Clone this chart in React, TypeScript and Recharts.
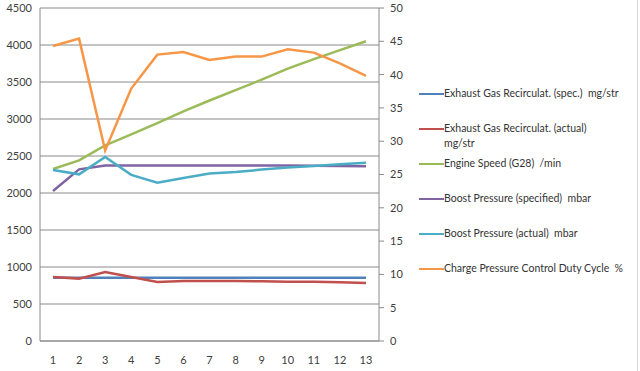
import React from 'react';
import { LineChart, Line, XAxis, YAxis, CartesianGrid, Legend } from 'recharts';

const categories = ['1', '2', '3', '4', '5', '6', '7', '8', '9', '10', '11', '12', '13'];
const egrSpec = [855, 855, 855, 855, 855, 855, 855, 855, 855, 855, 855, 855, 855];
const egrActual = [865, 843, 932, 865, 798, 811, 811, 810, 808, 800, 800, 795, 784];
const engineSpeed = [2324, 2440, 2644, 2792, 2944, 3103, 3250, 3390, 3531, 3680, 3810, 3930, 4050];
const boostSpec = [2027, 2320, 2370, 2372, 2372, 2372, 2372, 2372, 2372, 2370, 2368, 2364, 2360];
const boostActual = [2310, 2252, 2486, 2245, 2140, 2203, 2262, 2284, 2316, 2343, 2365, 2387, 2410];
const dutyCycle = [44.3, 45.4, 28.6, 37.9, 43.0, 43.4, 42.2, 42.7, 42.7, 43.8, 43.3, 41.7, 39.8];

const leftTicks = [0, 500, 1000, 1500, 2000, 2500, 3000, 3500, 4000, 4500];
const rightTicks = [0, 5, 10, 15, 20, 25, 30, 35, 40, 45, 50];
const boundaryTicks = [0, 1, 2, 3, 4, 5, 6, 7, 8, 9, 10, 11, 12, 13];

const series = [
  { key: 'egrSpec', name: ['Exhaust Gas Recirculat. (spec.)  mg/str'], color: '#4F81BD', axis: 'left' },
  { key: 'egrActual', name: ['Exhaust Gas Recirculat. (actual)', 'mg/str'], color: '#C0504D', axis: 'left' },
  { key: 'engineSpeed', name: ['Engine Speed (G28)  /min'], color: '#9BBB59', axis: 'left' },
  { key: 'boostSpec', name: ['Boost Pressure (specified)  mbar'], color: '#8064A2', axis: 'left' },
  { key: 'boostActual', name: ['Boost Pressure (actual)  mbar'], color: '#4BACC6', axis: 'left' },
  { key: 'dutyCycle', name: ['Charge Pressure Control Duty Cycle  %'], color: '#F79646', axis: 'right' },
];

const data = categories.map((c, i) => ({
  cat: c,
  egrSpec: egrSpec[i],
  egrActual: egrActual[i],
  engineSpeed: engineSpeed[i],
  boostSpec: boostSpec[i],
  boostActual: boostActual[i],
  dutyCycle: dutyCycle[i],
}));

const FONT = 'Lato, "Open Sans", sans-serif';

const LegendContent = () => (
  <div style={{ position: 'relative', width: 0, height: 0, overflow: 'visible', fontFamily: FONT, fontSize: 10.5, color: '#333' }}>
    {series.map((s, i) => (
      <div key={s.key} style={{ position: 'absolute', left: 0, top: i * 35, width: 215, display: 'flex', alignItems: 'flex-start' }}>
        <div style={{ width: 25, height: 2, background: s.color, marginTop: 7, flexShrink: 0 }} />
        <div style={{ lineHeight: '15px', whiteSpace: 'pre' }}>
          {s.name.map((n, j) => (
            <div key={j}>{n}</div>
          ))}
        </div>
      </div>
    ))}
  </div>
);

export default function App() {
  const tickStyle = { fontFamily: FONT, fontSize: 11, fill: '#404040' };
  return (
    <div style={{ position: 'absolute', left: 0, top: 0, width: 640, height: 371, background: '#fff' }}>
      <div style={{ position: 'absolute', left: 637, top: 0, width: 1, height: 371, background: '#d6d6d6' }} />
      <LineChart width={640} height={371} data={data} margin={{ top: 8, right: 221, bottom: 0, left: 0 }}>
        <CartesianGrid horizontal vertical={false} stroke="#8a8a8a" yAxisId="left" />
        <XAxis
          xAxisId="marks"
          type="number"
          domain={[0, 13]}
          ticks={boundaryTicks}
          tick={false}
          axisLine={false}
          tickLine={{ stroke: '#8a8a8a' }}
          tickSize={4}
          height={0}
        />
        <XAxis
          dataKey="cat"
          padding={{ left: 13, right: 13 }}
          tick={tickStyle}
          tickLine={false}
          axisLine={{ stroke: '#8a8a8a' }}
          tickSize={6}
          tickMargin={9}
          height={30}
          interval={0}
        />
        <YAxis
          yAxisId="left"
          domain={[0, 4500]}
          ticks={leftTicks}
          tick={tickStyle}
          tickLine={false}
          axisLine={{ stroke: '#8a8a8a' }}
          width={40}
          interval={0}
        />
        <YAxis
          yAxisId="right"
          orientation="right"
          domain={[0, 50]}
          ticks={rightTicks}
          tick={{ ...tickStyle, textAnchor: 'start' }}
          tickLine={{ stroke: '#8a8a8a' }}
          tickSize={5}
          tickMargin={6}
          axisLine={{ stroke: '#8a8a8a' }}
          width={40}
          interval={0}
        />
        <Legend
          content={<LegendContent />}
          wrapperStyle={{ position: 'absolute', left: 419, top: 86, width: 0, height: 0 }}
        />
        {series.map((s) => (
          <Line
            key={s.key}
            dataKey={s.key}
            yAxisId={s.axis}
            stroke={s.color}
            strokeWidth={2.5}
            dot={false}
            activeDot={false}
            isAnimationActive={false}
            type="linear"
          />
        ))}
      </LineChart>
    </div>
  );
}
